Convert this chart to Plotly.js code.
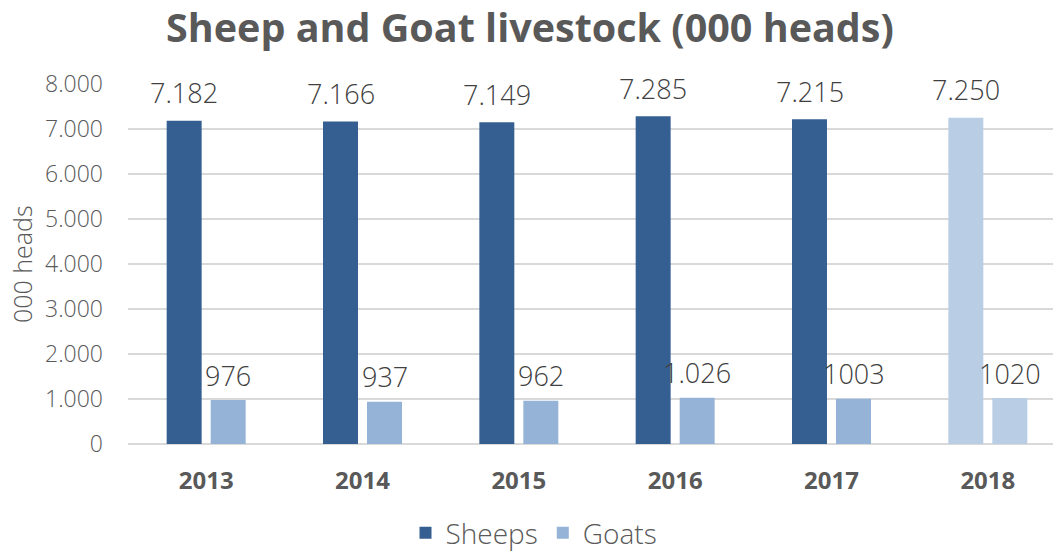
<!DOCTYPE html>
<html>
<head>
<meta charset="utf-8">
<script src="https://cdn.plot.ly/plotly-3.0.1.min.js"></script>
<style>
  html, body { margin: 0; padding: 0; overflow: hidden; background: #fff; }
  #chart { width: 1080px; height: 551px; }
</style>
</head>
<body>
<div id="chart"></div>
<script>
const years = ['2013', '2014', '2015', '2016', '2017', '2018'];
const sheeps = [7182, 7166, 7149, 7285, 7215, 7250];
const goats = [976, 937, 962, 1026, 1003, 1020];
const sheepLabels = ['7.182', '7.166', '7.149', '7.285', '7.215', '7.250'];
const goatLabels = ['976', '937', '962', '1.026', '1003', '1020'];
const yTickVals = [0, 1000, 2000, 3000, 4000, 5000, 6000, 7000, 8000];
const yTickText = ['0', '1.000', '2.000', '3.000', '4.000', '5.000', '6.000', '7.000', '8.000'];

const sheepColors = years.map((y, i) => i === years.length - 1 ? '#B9CDE5' : '#365F91');
const goatColors = years.map((y, i) => i === years.length - 1 ? '#B9CDE5' : '#95B3D7');

const FONT = 'Open Sans, Lato, DejaVu Sans, sans-serif';

const traces = [
  { type: 'bar', name: 'Sheeps', x: years, y: sheeps, marker: { color: sheepColors }, hoverinfo: 'none' },
  { type: 'bar', name: 'Goats', x: years, y: goats, marker: { color: goatColors }, hoverinfo: 'none' }
];

const annotations = [];
years.forEach((yr, i) => {
  annotations.push({ x: i, y: sheeps[i], xref: 'x', yref: 'y', text: sheepLabels[i], showarrow: false,
    xshift: -22, yshift: 28, yanchor: 'middle', font: { family: FONT, size: 27, color: '#404040', weight: 300 } });
  annotations.push({ x: i, y: goats[i], xref: 'x', yref: 'y', text: goatLabels[i], showarrow: false,
    xshift: 22, yshift: 25, yanchor: 'middle', font: { family: FONT, size: 27, color: '#404040', weight: 300 } });
});
annotations.push({ xref: 'paper', yref: 'paper', x: -0.113, y: 0.5, text: '000 heads', textangle: -90, showarrow: false,
  xanchor: 'center', yanchor: 'middle', font: { family: FONT, size: 25, color: '#595959', weight: 300 } });

const layout = {
  width: 1080, height: 551,
  margin: { l: 128, r: 14, t: 84, b: 107 },
  paper_bgcolor: '#ffffff', plot_bgcolor: '#ffffff',
  title: { text: '<b>Sheep and Goat livestock (000 heads)</b>', xref: 'container', yref: 'container', x: 0.4907, y: 0.949,
    xanchor: 'center', yanchor: 'middle', font: { family: FONT, size: 39.5, color: '#595959' } },
  barmode: 'group', bargap: 0.437, bargroupgap: 0.205,
  xaxis: { type: 'category', range: [-0.5, 5.5], autorange: false,
    tickfont: { family: FONT, size: 24, color: '#595959', weight: 'bold' }, showgrid: false,
    showline: false, ticks: '', ticklabelstandoff: 20, fixedrange: true },
  yaxis: { range: [0, 8000], autorange: false, tickvals: yTickVals, ticktext: yTickText, showgrid: true, gridcolor: '#D9D9D9', gridwidth: 1.5,
    zeroline: true, zerolinecolor: '#D9D9D9', zerolinewidth: 1.5, showline: false, ticks: '', ticklabelstandoff: 24,
    tickfont: { family: FONT, size: 23, color: '#595959', weight: 300 }, fixedrange: true },
  showlegend: true,
  legend: { orientation: 'h', xref: 'container', yref: 'container', x: 534 / 1080, y: 1 - 533 / 551, xanchor: 'center', yanchor: 'middle',
    font: { family: FONT, size: 28, color: '#595959', weight: 300 }, itemwidth: 30, traceorder: 'normal' },
  annotations: annotations
};

Plotly.newPlot('chart', traces, layout, { displayModeBar: false, staticPlot: true });
</script>
</body>
</html>
